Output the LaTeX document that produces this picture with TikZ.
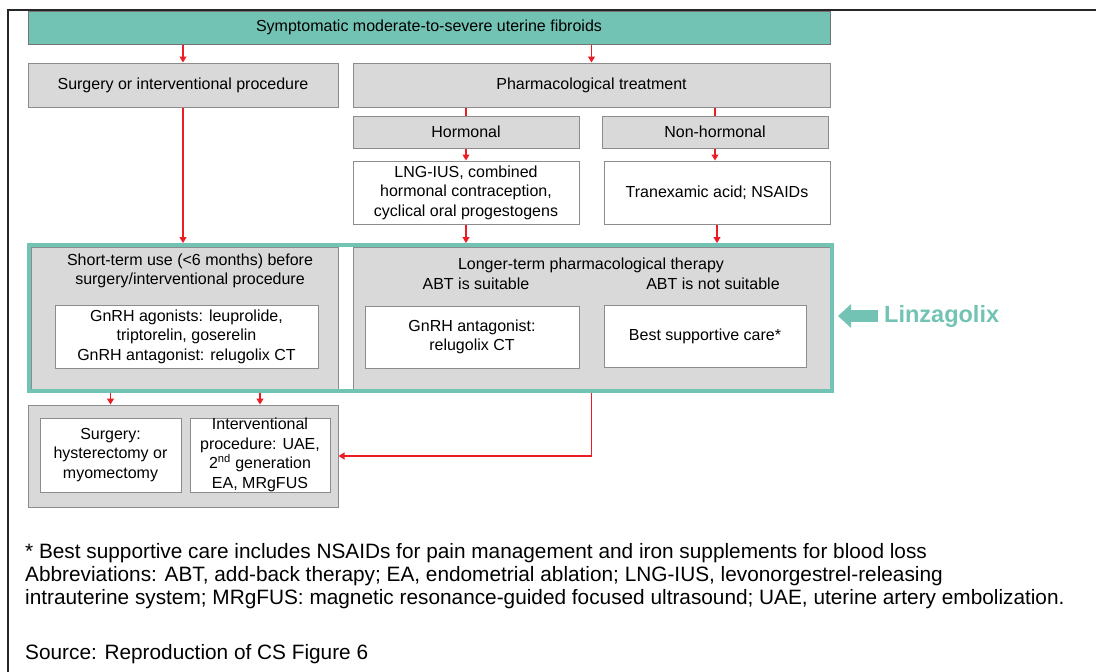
\documentclass[tikz,border=0pt]{standalone}
\usepackage{fontspec}
\setmainfont{Liberation Sans}
\usetikzlibrary{arrows.meta, positioning, calc}
\definecolor{fibteal}{RGB}{114, 195, 180}
\definecolor{boxgray}{RGB}{217, 217, 217}
\definecolor{edgegray}{RGB}{140, 140, 140}
\definecolor{linkred}{RGB}{237, 28, 36}

\begin{document}
\begin{tikzpicture}[
  x=1pt, y=-1pt,
  every node/.style={font=\fontsize{16}{19.5}\selectfont, inner sep=0pt, align=center},
  graybox/.style={draw=edgegray, fill=boxgray, line width=1pt},
  whitebox/.style={draw=edgegray, fill=white, line width=1pt},
  link/.style={draw=linkred, line width=1.1pt, -{Triangle[width=7pt, length=6pt]}},
  plainlink/.style={draw=linkred, line width=1.1pt},
  notefont/.style={font=\fontsize{20.8}{22.7}\selectfont, align=left}
]
  \useasboundingbox (0,0) rectangle (1096,672);
  \draw[line width=1.5pt, black!85] (8,672) -- (8,10) -- (1096,10);

  \node[graybox, fill=fibteal, draw=black!55, minimum width=802pt, minimum height=33pt] (top) at (429, 27.5) {Symptomatic moderate-to-severe uterine fibroids};

  \node[graybox, minimum width=310pt, minimum height=44pt] (surg) at (183, 85) {Surgery or interventional procedure};
  \node[graybox, minimum width=477pt, minimum height=44pt] (pharm) at (591.5, 85) {Pharmacological treatment};

  \node[graybox, minimum width=226pt, minimum height=32pt] (horm) at (466, 132) {Hormonal};
  \node[graybox, minimum width=226pt, minimum height=32pt] (nonh) at (715, 132) {Non-hormonal};

  \node[whitebox, minimum width=226pt, minimum height=63pt] (lng) at (466, 192.5) {LNG-IUS, combined\\hormonal contraception,\\cyclical oral progestogens};
  \node[whitebox, minimum width=226pt, minimum height=63pt] (tran) at (717, 192.5) {Tranexamic acid; NSAIDs};

  \node[graybox, minimum width=307pt, minimum height=142pt] (shortp) at (184.5, 318) {};
  \node[graybox, minimum width=477pt, minimum height=142pt] (longp) at (591.5, 318) {};
  \node[draw=fibteal, line width=4pt, minimum width=803pt, minimum height=146pt] (frame) at (430.5, 318) {};

  \node (shortt) at (190, 271) {Short-term use (<6 months) before\\surgery/interventional procedure};
  \node[whitebox, minimum width=263pt, minimum height=63pt] (agon) at (186.5, 336.5) {GnRH agonists: leuprolide,\\triptorelin, goserelin\\GnRH antagonist: relugolix CT};

  \node (longt) at (591, 265) {Longer-term pharmacological therapy};
  \node (abtyes) at (476, 284) {ABT is suitable};
  \node (abtno) at (713, 284) {ABT is not suitable};
  \node[whitebox, minimum width=214pt, minimum height=62pt] (antag) at (472, 337) {GnRH antagonist:\\relugolix CT};
  \node[whitebox, minimum width=202pt, minimum height=62pt] (bsc) at (705, 336) {Best supportive care*};

  \node[graybox, minimum width=310pt, minimum height=102pt] (proc) at (183, 456) {};
  \node[whitebox, minimum width=141pt, minimum height=74pt] (surgw) at (110.5, 455) {Surgery:\\hysterectomy or\\myomectomy};
  \node[whitebox, minimum width=140pt, minimum height=74pt] (intw) at (260, 455) {Interventional\\procedure: UAE,\\2\textsuperscript{nd} generation\\EA, MRgFUS};

  \node[font=\fontsize{23.5}{28}\selectfont\bfseries, text=fibteal, anchor=west] (linz) at (884, 316) {Linzagolix};
  \draw[fibteal, line width=12pt, -{Triangle[width=23pt, length=13pt]}, shorten <=6pt, shorten >=4pt] (linz.west) -- (linz.west -| frame.east);

  \draw[link] (top.south -| surg.north) -- (surg.north);
  \draw[link] (top.south -| pharm.north) -- (pharm.north);
  \draw[plainlink] (pharm.south -| horm.north) -- (horm.north);
  \draw[plainlink] (pharm.south -| nonh.north) -- (nonh.north);
  \draw[link] (horm.south) -- (horm.south |- lng.north);
  \draw[link] (nonh.south) -- (nonh.south |- tran.north);
  \draw[link] (surg.south) -- (surg.south |- frame.north);
  \draw[link] (lng.south) -- (lng.south |- frame.north);
  \draw[link] (tran.south) -- (tran.south |- frame.north);
  \draw[link] (frame.south -| surgw.north) -- (surgw.north |- proc.north);
  \draw[link] (frame.south -| intw.north) -- (intw.north |- proc.north);
  \draw[link] (frame.south -| longp.south) |- (proc.east);

  \node[notefont, anchor=west] (notes) at (25, 576) {* Best supportive care includes NSAIDs for pain management and iron supplements for blood loss\\Abbreviations: ABT, add-back therapy; EA, endometrial ablation; LNG-IUS, levonorgestrel-releasing\\intrauterine system; MRgFUS: magnetic resonance-guided focused ultrasound; UAE, uterine artery embolization.};
  \node[notefont, anchor=west] (source) at (25, 654) {Source: Reproduction of CS Figure 6};
\end{tikzpicture}
\end{document}
